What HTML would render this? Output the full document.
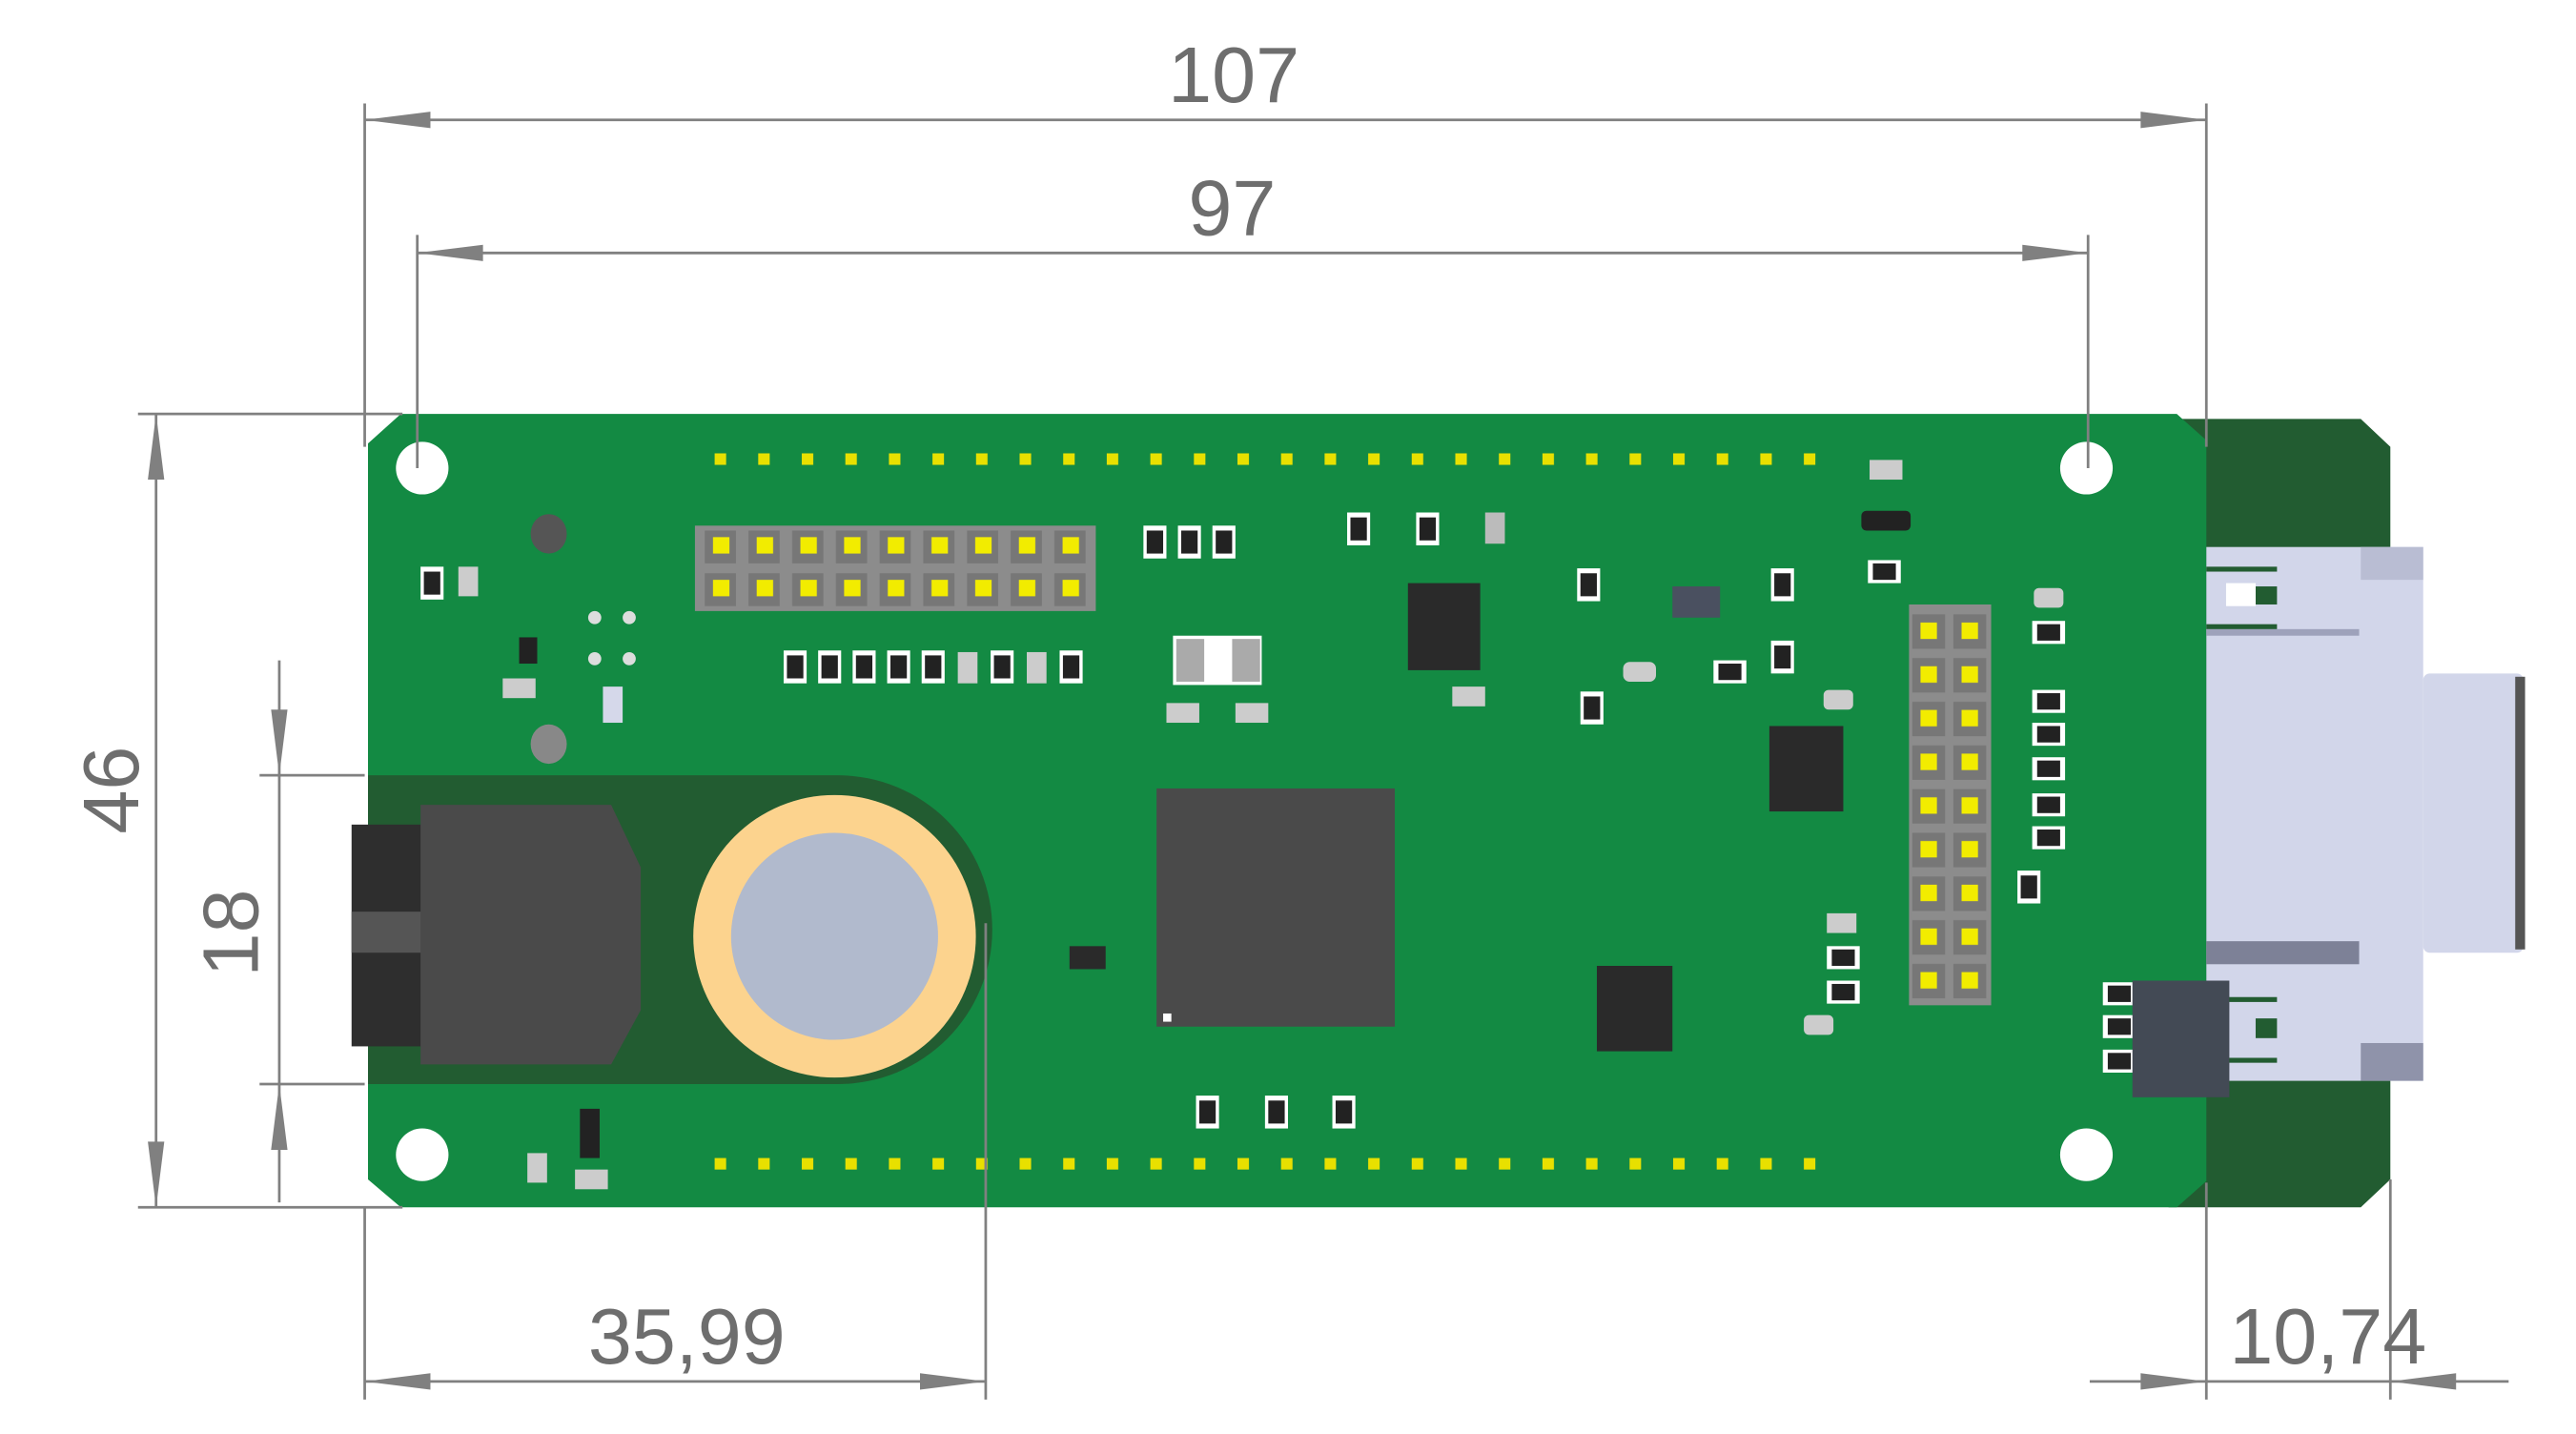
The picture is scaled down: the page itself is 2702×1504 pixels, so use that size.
<!DOCTYPE html>
<html><head><meta charset="utf-8"><style>
html,body{margin:0;padding:0;background:#fff;}
svg{display:block;}
text{font-family:"Liberation Sans",sans-serif;fill:#6e6e6e;}
</style></head><body>
<svg width="2702" height="1504" viewBox="0 0 1568 873" preserveAspectRatio="none" xmlns="http://www.w3.org/2000/svg">
<defs>
<pattern id="dots" x="433" y="0" width="26.52" height="864" patternUnits="userSpaceOnUse">
<rect x="2" y="276" width="7" height="7" fill="#e8e000"/>
<rect x="2" y="705" width="7" height="7" fill="#e8e000"/>
</pattern>
<pattern id="hdr" x="426" y="322" width="26.6" height="26" patternUnits="userSpaceOnUse">
<rect x="3" y="1" width="19" height="20" fill="#777"/>
<rect x="8" y="5" width="10" height="10" fill="#f2ec00"/>
</pattern>
<pattern id="vhdr" x="1162" y="373" width="25" height="26.6" patternUnits="userSpaceOnUse">
<rect x="2" y="1" width="20" height="21" fill="#777"/>
<rect x="7" y="6" width="10" height="10" fill="#f2ec00"/>
</pattern>
<g id="res"><rect x="0" y="0" width="14" height="20" fill="#fff"/><rect x="2" y="3" width="10" height="14" fill="#222"/></g>
<g id="hres"><rect x="0" y="0" width="20" height="14" fill="#fff"/><rect x="3" y="2" width="14" height="10" fill="#222"/></g>
</defs>

<polygon points="1320,255 1437,255 1455,272 1455,718 1437,735 1320,735" fill="#225c31"/>
<polygon points="244,252 1325,252 1343,268 1343,719 1325,735 244,735 224,718 224,270" fill="#138a43"/>
<path d="M224,472 L510,472 A94,94 0 0 1 510,660 L224,660 Z" fill="#225c31"/>
<rect x="214" y="502" width="44" height="135" fill="#2e2e2e"/>
<rect x="214" y="555" width="44" height="25" fill="#555"/>
<polygon points="256,490 372,490 390,528 390,615 372,648 256,648" fill="#4a4a4a"/>
<circle cx="508" cy="570" r="86" fill="#fcd38e"/>
<circle cx="508" cy="570" r="63" fill="#b1bacd"/>

<circle cx="257" cy="285" r="16" fill="#fff"/>
<circle cx="1270" cy="285" r="16" fill="#fff"/>
<circle cx="257" cy="703" r="16" fill="#fff"/>
<circle cx="1270" cy="703" r="16" fill="#fff"/>

<rect x="433" y="270" width="680" height="450" fill="url(#dots)"/>

<rect x="423" y="320" width="244" height="52" fill="#8c8c8c"/>
<rect x="426" y="322" width="240" height="48" fill="url(#hdr)"/>
<rect x="1162" y="368" width="50" height="244" fill="#8c8c8c"/>
<rect x="1162" y="373" width="50" height="237" fill="url(#vhdr)"/>

<rect x="704" y="480" width="145" height="145" fill="#4a4a4a"/>
<rect x="708" y="617" width="5" height="5" fill="#fff"/>
<rect x="857" y="355" width="44" height="53" fill="#2a2a2a"/>
<rect x="1077" y="442" width="45" height="52" fill="#2a2a2a"/>
<rect x="972" y="588" width="46" height="52" fill="#2a2a2a"/>
<rect x="1018" y="357" width="29" height="19" fill="#4a5060"/>
<rect x="651" y="576" width="22" height="14" fill="#2a2a2a"/>
<rect x="714" y="387" width="54" height="30" fill="#fff"/>
<rect x="716" y="389" width="17" height="26" fill="#aaa"/><rect x="750" y="389" width="17" height="26" fill="#aaa"/>
<rect x="353" y="675" width="12" height="30" fill="#222"/>
<rect x="316" y="388" width="11" height="16" fill="#222"/>

<use href="#res" x="256" y="345"/><rect x="279" y="345" width="12" height="18" fill="#ccc"/>
<use href="#res" x="477" y="396"/><use href="#res" x="498" y="396"/><use href="#res" x="519" y="396"/><use href="#res" x="540" y="396"/><use href="#res" x="561" y="396"/>
<rect x="583" y="397" width="12" height="19" fill="#ccc"/><use href="#res" x="603" y="396"/><rect x="625" y="397" width="12" height="19" fill="#ccc"/><use href="#res" x="645" y="396"/>
<use href="#res" x="696" y="320"/><use href="#res" x="717" y="320"/><use href="#res" x="738" y="320"/>
<use href="#res" x="820" y="312"/><use href="#res" x="862" y="312"/><rect x="904" y="312" width="12" height="19" fill="#bbb"/>
<use href="#res" x="960" y="346"/><use href="#res" x="1078" y="346"/><use href="#res" x="1078" y="390"/><use href="#res" x="962" y="421"/>
<use href="#hres" x="1137" y="341"/><use href="#hres" x="1043" y="402"/>
<use href="#hres" x="1237" y="378"/><use href="#hres" x="1237" y="420"/><use href="#hres" x="1237" y="440"/><use href="#hres" x="1237" y="461"/><use href="#hres" x="1237" y="483"/><use href="#hres" x="1237" y="503"/>
<use href="#res" x="1228" y="530"/>
<use href="#hres" x="1112" y="576"/><use href="#hres" x="1112" y="597"/>
<use href="#res" x="728" y="667"/><use href="#res" x="770" y="667"/><use href="#res" x="811" y="667"/>
<use href="#hres" x="1280" y="598"/><use href="#hres" x="1280" y="618"/><use href="#hres" x="1280" y="639"/>
<rect x="1133" y="311" width="30" height="12" rx="3" fill="#222"/>
<rect x="1138" y="280" width="20" height="12" fill="#ccc"/>
<rect x="1238" y="358" width="18" height="12" rx="3" fill="#ccc"/>
<rect x="988" y="403" width="20" height="12" rx="4" fill="#ccc"/>
<rect x="884" y="418" width="20" height="12" fill="#ccc"/>
<rect x="1110" y="420" width="18" height="12" rx="3" fill="#ccc"/>
<rect x="1112" y="556" width="18" height="12" fill="#ccc"/>
<rect x="1098" y="618" width="18" height="12" rx="3" fill="#ccc"/>
<rect x="710" y="428" width="20" height="12" fill="#ccc"/><rect x="752" y="428" width="20" height="12" fill="#ccc"/>
<rect x="306" y="413" width="20" height="12" fill="#ccc"/><rect x="367" y="418" width="12" height="22" fill="#d5d8ea"/>
<rect x="321" y="702" width="12" height="18" fill="#ccc"/><rect x="350" y="712" width="20" height="12" fill="#ccc"/>
<ellipse cx="334" cy="325" rx="11" ry="12" fill="#555"/><ellipse cx="334" cy="453" rx="11" ry="12" fill="#888"/>
<circle cx="362" cy="376" r="4" fill="#ddd"/><circle cx="383" cy="376" r="4" fill="#ddd"/><circle cx="362" cy="401" r="4" fill="#ddd"/><circle cx="383" cy="401" r="4" fill="#ddd"/>

<rect x="1343" y="333" width="132" height="325" fill="#d2d6ea"/>
<rect x="1437" y="333" width="38" height="20" fill="#b9bdd3"/>
<rect x="1437" y="635" width="38" height="23" fill="#8f93aa"/>
<rect x="1475" y="410" width="61" height="170" rx="4" fill="#d2d6ea"/>
<rect x="1531" y="412" width="6" height="166" fill="#555"/>
<rect x="1343" y="383" width="93" height="4" fill="#9ea2bb"/>
<rect x="1343" y="573" width="93" height="14" fill="#7d8197"/>
<rect x="1343" y="345" width="43" height="3" fill="#225c31"/><rect x="1343" y="380" width="43" height="3" fill="#225c31"/>
<rect x="1373" y="357" width="13" height="11" fill="#225c31"/>
<rect x="1355" y="355" width="18" height="14" fill="#fff"/>
<rect x="1356" y="607" width="30" height="3" fill="#225c31"/><rect x="1356" y="644" width="30" height="3" fill="#225c31"/>
<rect x="1373" y="620" width="13" height="12" fill="#225c31"/>
<rect x="1298" y="597" width="59" height="71" fill="#434a55"/>

<g stroke="#808080" stroke-width="1.6" fill="none">
<line x1="222" y1="63" x2="222" y2="272"/><line x1="1343" y1="63" x2="1343" y2="272"/>
<line x1="222" y1="73" x2="1343" y2="73"/>
<line x1="254" y1="143" x2="254" y2="285"/><line x1="1271" y1="143" x2="1271" y2="285"/>
<line x1="254" y1="154" x2="1271" y2="154"/>
<line x1="84" y1="252" x2="245" y2="252"/><line x1="84" y1="735" x2="245" y2="735"/>
<line x1="95" y1="252" x2="95" y2="735"/>
<line x1="158" y1="472" x2="222" y2="472"/><line x1="158" y1="660" x2="222" y2="660"/>
<line x1="170" y1="402" x2="170" y2="732"/>
<line x1="222" y1="735" x2="222" y2="852"/><line x1="600" y1="562" x2="600" y2="852"/>
<line x1="222" y1="841" x2="600" y2="841"/>
<line x1="1343" y1="720" x2="1343" y2="852"/><line x1="1455" y1="718" x2="1455" y2="852"/>
<line x1="1272" y1="841" x2="1527" y2="841"/>
</g>
<g fill="#808080">
<polygon points="222,73 262,68 262,78"/><polygon points="1343,73 1303,68 1303,78"/>
<polygon points="254,154 294,149 294,159"/><polygon points="1271,154 1231,149 1231,159"/>
<polygon points="95,252 90,292 100,292"/><polygon points="95,735 90,695 100,695"/>
<polygon points="170,472 165,432 175,432"/><polygon points="170,660 165,700 175,700"/>
<polygon points="222,841 262,836 262,846"/><polygon points="600,841 560,836 560,846"/>
<polygon points="1343,841 1303,836 1303,846"/><polygon points="1455,841 1495,836 1495,846"/>
</g>
<text x="751" y="62" font-size="48" text-anchor="middle">107</text>
<text x="750" y="143" font-size="48" text-anchor="middle">97</text>
<text x="418" y="830" font-size="48" text-anchor="middle">35,99</text>
<text x="1417" y="830" font-size="48" text-anchor="middle">10,74</text>
<text transform="translate(84,481) rotate(-90)" font-size="48" text-anchor="middle">46</text>
<text transform="translate(157,568) rotate(-90)" font-size="48" text-anchor="middle">18</text>
</svg>
</body></html>
